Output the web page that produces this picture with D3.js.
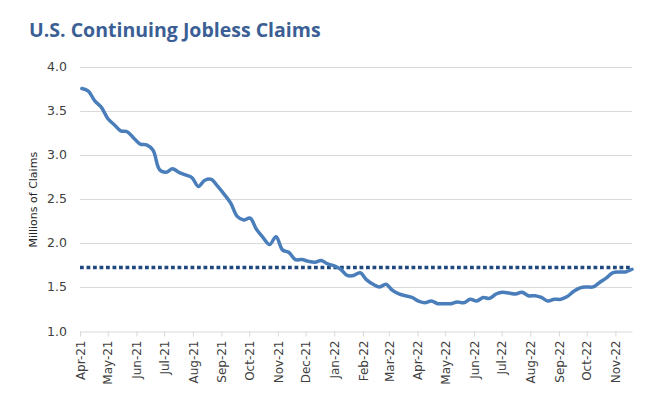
<!DOCTYPE html>
<html>
<head>
<meta charset="utf-8">
<script src="https://cdn.jsdelivr.net/npm/d3@7"></script>
<style>
  html, body { margin: 0; padding: 0; background: #fff; }
  svg { display: block; }
</style>
</head>
<body>
<svg id="chart" width="662" height="413"></svg>
<script>
// ---- data ----
const startDate = "2021-04-03"; // first week-ending date, weekly series
const claims = [
  3.75, 3.72, 3.61, 3.54, 3.41, 3.34, 3.27, 3.26, 3.19, 3.12,
  3.11, 3.05, 2.83, 2.80, 2.84, 2.80, 2.77, 2.74, 2.64, 2.71,
  2.72, 2.64, 2.55, 2.45, 2.30, 2.26, 2.28, 2.15, 2.06, 1.98,
  2.07, 1.92, 1.89, 1.81, 1.81, 1.79, 1.78, 1.80, 1.76, 1.74,
  1.70, 1.63, 1.63, 1.66, 1.58, 1.53, 1.50, 1.53, 1.46, 1.42,
  1.40, 1.38, 1.34, 1.32, 1.34, 1.31, 1.31, 1.31, 1.33, 1.32,
  1.36, 1.34, 1.38, 1.37, 1.42, 1.44, 1.43, 1.42, 1.44, 1.40,
  1.40, 1.38, 1.34, 1.36, 1.36, 1.39, 1.45, 1.49, 1.50, 1.50,
  1.55, 1.60, 1.66, 1.67, 1.67, 1.70
];
const referenceLevel = 1.72;
const yTicks = [1.0, 1.5, 2.0, 2.5, 3.0, 3.5, 4.0];
const xTickLabels = ["Apr-21","May-21","Jun-21","Jul-21","Aug-21","Sep-21","Oct-21","Nov-21","Dec-21",
  "Jan-22","Feb-22","Mar-22","Apr-22","May-22","Jun-22","Jul-22","Aug-22","Sep-22","Oct-22","Nov-22"];
const title = "U.S. Continuing Jobless Claims";
const yTitle = "Millions of Claims";

// ---- build ----
const parse = d3.timeParse("%Y-%m-%d");
const d0 = parse(startDate);
const series = claims.map((v, i) => ({ date: d3.timeDay.offset(d0, 7 * i), value: v }));
const tickDates = xTickLabels.map(s => d3.timeParse("%b-%y")(s));

const svg = d3.select("#chart");
const mLeft = 80, mRight = 632, mTop = 66.5, mBottom = 331;

const x = d3.scaleTime()
  .domain([new Date(2021, 3, 1), series[series.length - 1].date])
  .range([mLeft, mRight]);
const y = d3.scaleLinear().domain([1.0, 4.0]).range([mBottom, mTop]);

// title
svg.append("text")
  .attr("x", 29).attr("y", 37)
  .attr("font-family", "'Open Sans', 'Noto Sans', sans-serif")
  .attr("font-weight", 700)
  .attr("font-size", 19.5)
  .attr("fill", "#3b5f95")
  .text(title);

// gridlines
svg.append("g")
  .selectAll("line")
  .data(yTicks.filter(t => t > 1.0))
  .join("line")
  .attr("x1", mLeft).attr("x2", mRight)
  .attr("y1", d => Math.round(y(d)) + 0.5).attr("y2", d => Math.round(y(d)) + 0.5)
  .attr("stroke", "#d9d9d9").attr("stroke-width", 1);

// y axis labels
const yAxis = d3.axisLeft(y).tickValues(yTicks).tickFormat(d3.format(".1f")).tickSize(0).tickPadding(13);
const gy = svg.append("g").attr("transform", `translate(${mLeft},0)`).call(yAxis);
gy.select(".domain").remove();
gy.selectAll("text")
  .attr("font-family", "'DejaVu Sans', sans-serif")
  .attr("font-size", 12.5)
  .attr("fill", "#404040");

// x axis
const xAxis = d3.axisBottom(x).tickValues(tickDates).tickFormat((d, i) => xTickLabels[i]).tickSize(5).tickSizeOuter(0);
const gx = svg.append("g").attr("transform", `translate(0,${Math.round(mBottom) + 0.5})`).call(xAxis);
gx.select(".domain").attr("stroke", "#d9d9d9");
gx.selectAll(".tick line").attr("stroke", "#d9d9d9");
gx.selectAll("text")
  .attr("font-family", "'DejaVu Sans', sans-serif")
  .attr("font-size", 12)
  .attr("fill", "#404040")
  .attr("transform", "rotate(-90)")
  .attr("text-anchor", "end")
  .attr("dy", "0.35em")
  .attr("x", -9)
  .attr("y", 0);

// y title
svg.append("text")
  .attr("transform", `translate(37,${(mTop + mBottom) / 2 + 1}) rotate(-90)`)
  .attr("text-anchor", "middle")
  .attr("font-family", "'DejaVu Sans', sans-serif")
  .attr("font-size", 11)
  .attr("fill", "#262626")
  .text(yTitle);

// reference dotted line
svg.append("line")
  .attr("x1", mLeft).attr("x2", mRight)
  .attr("y1", y(referenceLevel)).attr("y2", y(referenceLevel))
  .attr("stroke", "#1f497d")
  .attr("stroke-width", 3.5)
  .attr("stroke-dasharray", "3.8 2.7");

// main line
const line = d3.line().x(d => x(d.date)).y(d => y(d.value)).curve(d3.curveCatmullRom.alpha(0.5));
svg.append("path")
  .datum(series)
  .attr("d", line)
  .attr("fill", "none")
  .attr("stroke", "#4a7ebb")
  .attr("stroke-width", 3.5)
  .attr("stroke-linejoin", "round")
  .attr("stroke-linecap", "round");
</script>
</body>
</html>
